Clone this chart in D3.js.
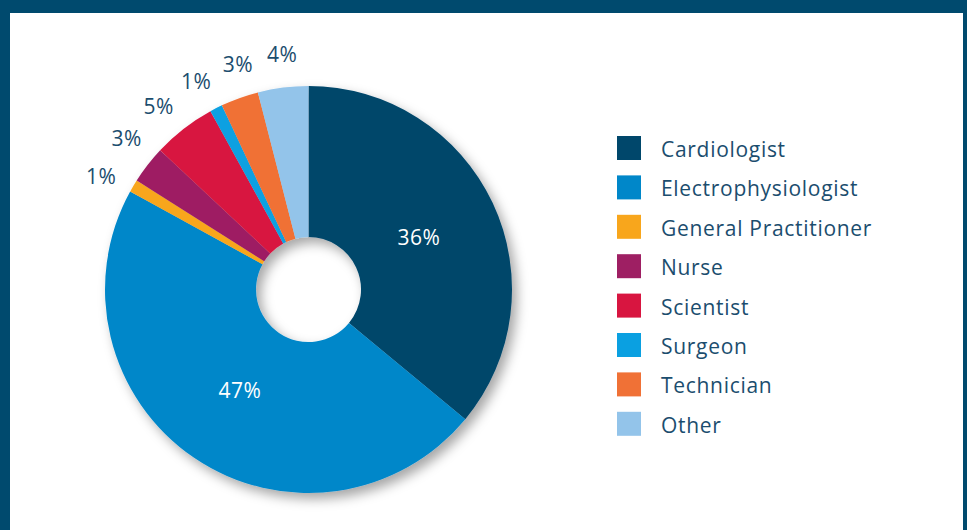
<!DOCTYPE html>
<html>
<head>
<meta charset="utf-8">
<script src="https://cdn.jsdelivr.net/npm/d3@7"></script>
<style>
  html, body { margin: 0; padding: 0; background: #004a6e; }
  .container { width: 967px; height: 530px; }
  text { font-family: "Open Sans", sans-serif; }
</style>
</head>
<body>
<div class="container"></div>
<script>
const WIDTH = 967;
const HEIGHT = 530;

const CATEGORIES = ["Cardiologist", "Electrophysiologist", "General Practitioner", "Nurse",
                    "Scientist", "Surgeon", "Technician", "Other"];
const VALUES = [36, 47, 1, 3, 5, 1, 3, 4];
const COLORS = ["#00476b", "#0087c9", "#f8a61c", "#9e1f63", "#d81540", "#0aa0e1", "#f07136", "#93c4ea"];

const CX = 308.5;
const CY = 289.5;
const OUTER = 203.5;
const INNER = 52.5;
const TEXT_COLOR = "#1b4d6e";
const MIN_LABEL_GAP = 11 * Math.PI / 180;

var translate = function(x, y){
    return "translate(" + x + "," + y + ")";
};

var data = CATEGORIES.map(function(c, i){
    return {name: c, value: VALUES[i], color: COLORS[i]};
});

var svg = d3.select('.container').append('svg')
    .attr('width', WIDTH)
    .attr('height', HEIGHT);

// white panel inside navy frame
svg.append('rect')
    .attr('x', 10).attr('y', 13)
    .attr('width', 953).attr('height', HEIGHT - 13)
    .attr('fill', '#ffffff');

var defs = svg.append('defs');
var filter = defs.append('filter').attr('id', 'shadow')
    .attr('x', '-20%').attr('y', '-20%').attr('width', '140%').attr('height', '140%');
filter.append('feDropShadow')
    .attr('dx', 5).attr('dy', 6)
    .attr('stdDeviation', 6)
    .attr('flood-color', '#000')
    .attr('flood-opacity', 0.35);

var pie = d3.pie().sort(null).value(function(d){ return d.value; });
var arcs = pie(data);

var arc = d3.arc().innerRadius(INNER).outerRadius(OUTER);

var g = svg.append('g').attr('transform', translate(CX, CY));

g.append('g').attr('filter', 'url(#shadow)')
    .selectAll('path')
    .data(arcs)
    .enter()
    .append('path')
    .attr('d', arc)
    .attr('fill', function(d){ return d.data.color; });

// small slices get labels outside; spread their angles so they don't collide
var outside = arcs.filter(function(d){ return d.data.value <= 10; });
outside.forEach(function(d){ d.labelAngle = (d.startAngle + d.endAngle) / 2; });
for (var it = 0; it < 100; it++) {
    for (var i = 0; i < outside.length - 1; i++) {
        var a = outside[i], b = outside[i + 1];
        var gap = b.labelAngle - a.labelAngle;
        if (gap < MIN_LABEL_GAP) {
            var push = (MIN_LABEL_GAP - gap) / 2;
            a.labelAngle -= push;
            b.labelAngle += push;
        }
    }
}

var INSIDE_R = 122;
var OUTSIDE_R = 236;

g.selectAll('text.pct')
    .data(arcs)
    .enter()
    .append('text')
    .classed('pct', true)
    .attr('transform', function(d){
        var ang, r;
        if (d.data.value > 10) {
            ang = (d.startAngle + d.endAngle) / 2;
            r = INSIDE_R;
        } else {
            ang = d.labelAngle;
            r = OUTSIDE_R;
        }
        return translate(r * Math.sin(ang), -r * Math.cos(ang));
    })
    .attr('text-anchor', 'middle')
    .attr('dy', '0.35em')
    .attr('font-size', 21)
    .attr('letter-spacing', 0.5)
    .attr('fill', function(d){ return d.data.value > 10 ? '#ffffff' : TEXT_COLOR; })
    .text(function(d){ return d.data.value + '%'; });

// legend
var legend = svg.append('g').attr('transform', translate(617, 136));
var rows = legend.selectAll('g')
    .data(data)
    .enter()
    .append('g')
    .attr('transform', function(d, i){ return translate(0, i * 39.4); });

rows.append('rect')
    .attr('width', 24).attr('height', 24)
    .attr('fill', function(d){ return d.color; });

rows.append('text')
    .attr('x', 44)
    .attr('y', 13.5)
    .attr('dy', '0.36em')
    .attr('font-size', 21)
    .attr('letter-spacing', 0.7)
    .attr('fill', TEXT_COLOR)
    .text(function(d){ return d.name; });
</script>
</body>
</html>
